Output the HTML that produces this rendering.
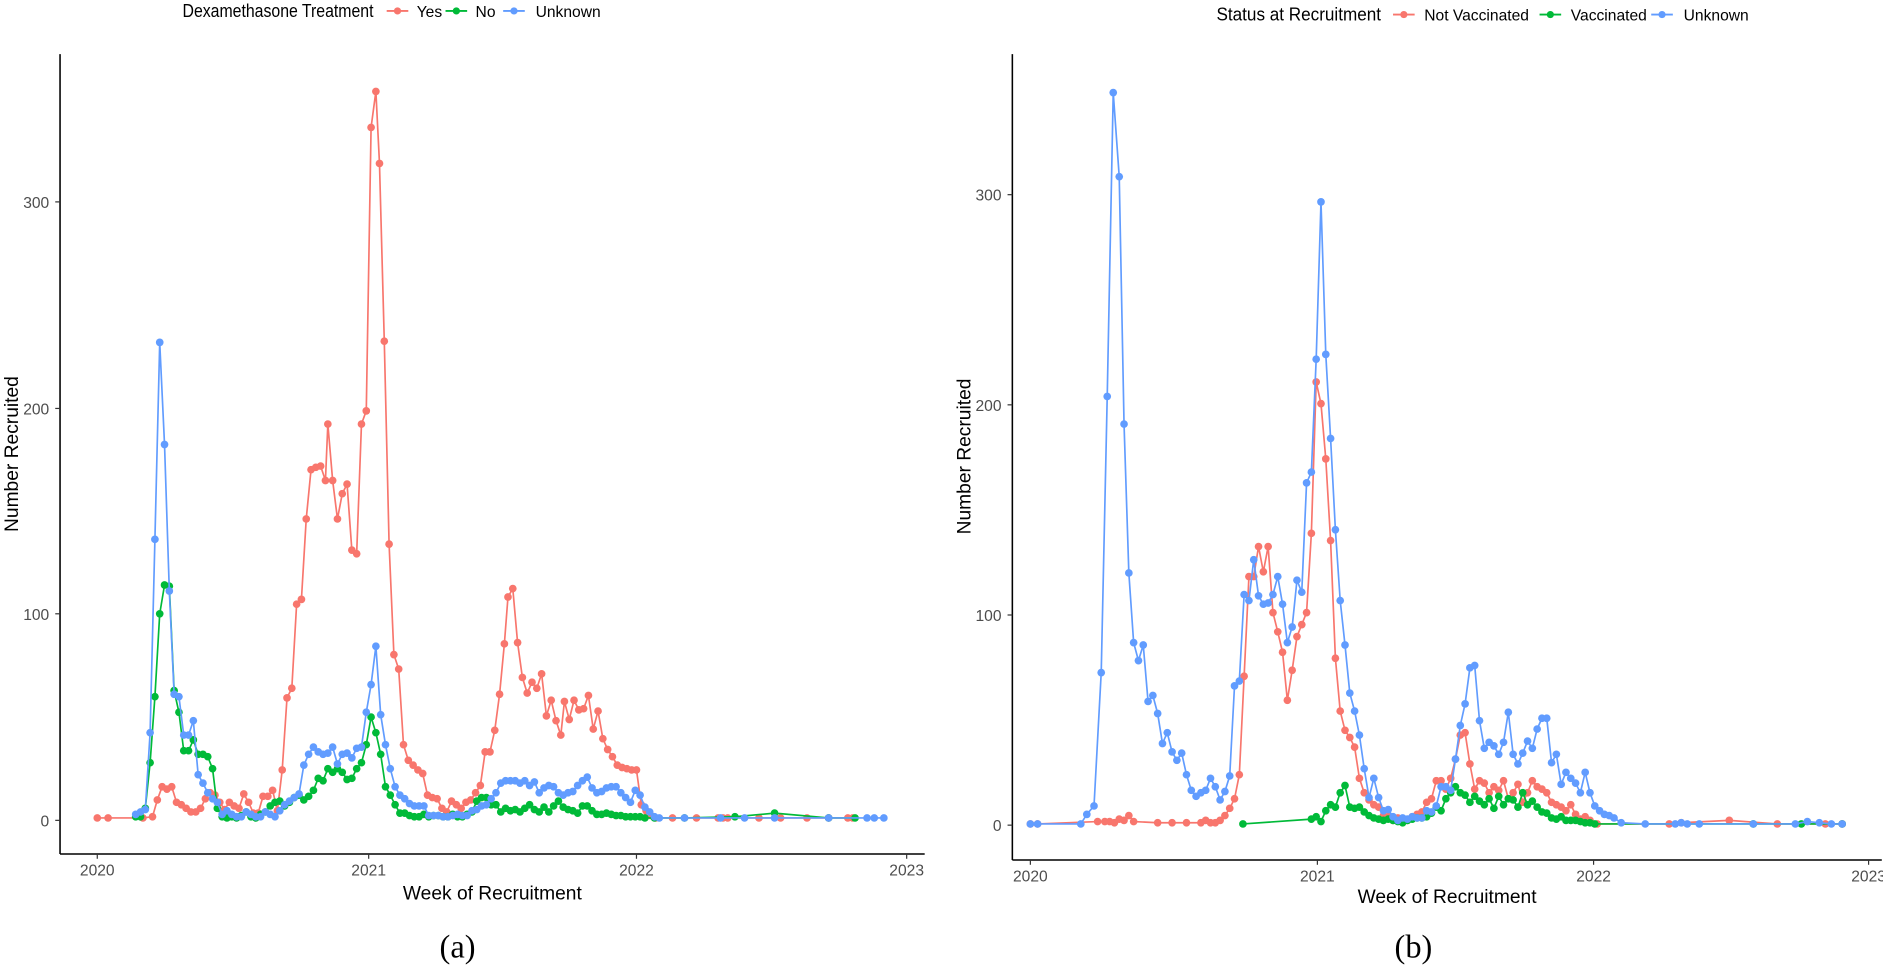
<!DOCTYPE html>
<html><head><meta charset="utf-8"><style>
body{margin:0;background:#fff;}
svg text{font-family:"Liberation Sans",sans-serif;}
</style></head><body>
<svg id="s" width="1883" height="967" viewBox="0 0 1568 805" xmlns="http://www.w3.org/2000/svg">
<rect width="1568" height="805" fill="#fff"/>
<!-- left axes -->
<line x1="50" y1="45" x2="50" y2="711" stroke="#000" stroke-width="1.3"/>
<line x1="50" y1="711" x2="770" y2="711" stroke="#000" stroke-width="1.3"/>
<g font-size="13" fill="#4d4d4d" text-anchor="end">
<text x="41" y="688">0</text><text x="41" y="516">100</text><text x="41" y="345">200</text><text x="41" y="173">300</text>
</g>
<g stroke="#333"><line x1="46" y1="683" x2="50" y2="683"/><line x1="46" y1="511" x2="50" y2="511"/><line x1="46" y1="340" x2="50" y2="340"/><line x1="46" y1="168" x2="50" y2="168"/>
<line x1="81" y1="711" x2="81" y2="715"/><line x1="307" y1="711" x2="307" y2="715"/><line x1="530" y1="711" x2="530" y2="715"/><line x1="755" y1="711" x2="755" y2="715"/></g>
<g font-size="13" fill="#4d4d4d" text-anchor="middle">
<text x="81" y="729">2020</text><text x="307" y="729">2021</text><text x="530" y="729">2022</text><text x="755" y="729">2023</text></g>
<text x="410" y="749" font-size="16" text-anchor="middle">Week of Recruitment</text>
<text transform="translate(15,378) rotate(-90)" font-size="16" text-anchor="middle">Number Recruited</text>
<text x="152" y="14" font-size="15" textLength="159" lengthAdjust="spacingAndGlyphs">Dexamethasone Treatment</text>
<g font-size="13"><line x1="322" y1="9" x2="340" y2="9" stroke="#F8766D" stroke-width="1.5"/><circle cx="331" cy="9" r="3" fill="#F8766D"/><text x="347" y="14">Yes</text>
<line x1="371" y1="9" x2="389" y2="9" stroke="#00BA38" stroke-width="1.5"/><circle cx="380" cy="9" r="3" fill="#00BA38"/><text x="396" y="14">No</text>
<line x1="419" y1="9" x2="437" y2="9" stroke="#619CFF" stroke-width="1.5"/><circle cx="428" cy="9" r="3" fill="#619CFF"/><text x="446" y="14">Unknown</text></g>
<!-- right axes -->
<line x1="843" y1="45" x2="843" y2="716" stroke="#000" stroke-width="1.3"/>
<line x1="843" y1="716" x2="1567" y2="716" stroke="#000" stroke-width="1.3"/>
<g font-size="13" fill="#4d4d4d" text-anchor="end">
<text x="834" y="692">0</text><text x="834" y="517">100</text><text x="834" y="342">200</text><text x="834" y="167">300</text></g>
<g stroke="#333"><line x1="839" y1="687" x2="843" y2="687"/><line x1="839" y1="512" x2="843" y2="512"/><line x1="839" y1="337" x2="843" y2="337"/><line x1="839" y1="162" x2="843" y2="162"/>
<line x1="858" y1="716" x2="858" y2="720"/><line x1="1097" y1="716" x2="1097" y2="720"/><line x1="1327" y1="716" x2="1327" y2="720"/><line x1="1556" y1="716" x2="1556" y2="720"/></g>
<g font-size="13" fill="#4d4d4d" text-anchor="middle">
<text x="858" y="734">2020</text><text x="1097" y="734">2021</text><text x="1327" y="734">2022</text><text x="1556" y="734">2023</text></g>
<text x="1205" y="752" font-size="16" text-anchor="middle">Week of Recruitment</text>
<text transform="translate(808,380) rotate(-90)" font-size="16" text-anchor="middle">Number Recruited</text>
<text x="1013" y="17" font-size="15" textLength="137" lengthAdjust="spacingAndGlyphs">Status at Recruitment</text>
<g font-size="13"><line x1="1160" y1="12" x2="1178" y2="12" stroke="#F8766D" stroke-width="1.5"/><circle cx="1169" cy="12" r="3" fill="#F8766D"/><text x="1186" y="17">Not Vaccinated</text>
<line x1="1282" y1="12" x2="1300" y2="12" stroke="#00BA38" stroke-width="1.5"/><circle cx="1291" cy="12" r="3" fill="#00BA38"/><text x="1308" y="17">Vaccinated</text>
<line x1="1375" y1="12" x2="1393" y2="12" stroke="#619CFF" stroke-width="1.5"/><circle cx="1384" cy="12" r="3" fill="#619CFF"/><text x="1402" y="17">Unknown</text></g>
<text x="381" y="797" font-size="27" text-anchor="middle" style="font-family:'Liberation Serif',serif">(a)</text>
<text x="1177" y="797" font-size="27" text-anchor="middle" style="font-family:'Liberation Serif',serif">(b)</text>
<g id="g"></g>
</svg>
<script>
function P(a){var r=[];for(var i=0;i<a.length;i+=2)r.push([a[i],a[i+1]]);return r;}
var LR=[81,681,90,681,119,681,127,680,131,666,135,655,139,657,143,655,147,668,151,670,155,673,159,676,163,676,167,673,171,665,175,660,179,662,183,668,187,674,191,668,195,671,199,673,203,661,207,668,211,677,215,677,219,663,223,663,227,658,231,675,235,641,239,581,243,573,247,503,251,499,255,432,259,391,263,389,267,388,271,400,273,353,277,400,281,432,285,411,289,403,293,458,297,461,301,353,305,342,309,106,313,76,316,136,320,284,324,453,328,545,332,557,336,620,340,633,344,637,348,641,352,644,356,662,360,664,364,665,368,673,372,676,376,667,380,670,384,673,388,668,392,666,396,660,400,654,404,626,408,626,412,608,416,578,420,536,423,497,427,490,431,535,435,564,439,577,443,568,447,573,451,561,455,596,459,583,463,600,467,612,470,584,474,599,478,583,482,591,486,590,490,579,494,607,498,592,502,615,506,624,510,630,514,637,518,639,522,640,526,641,530,641,534,670,538,675,542,679,546,681,560,681,580,681,598,681,602,681,606,681,632,681,650,681,672,681,690,681,706,681,710,681];
var LB=[113,678,117,676,121,674,125,610,129,449,133,285,137,370,141,492,145,578,149,580,153,612,157,612,161,600,165,645,169,652,173,660,177,665,181,668,185,678,189,675,193,678,197,680,201,680,205,676,209,678,213,680,217,680,221,676,225,678,229,680,233,675,237,670,241,667,245,664,249,661,253,637,257,628,261,622,265,626,269,628,273,627,277,622,281,636,285,628,289,627,293,631,297,623,301,622,305,593,309,570,313,538,317,595,321,620,325,640,329,655,333,662,337,665,341,669,345,671,349,671,353,671,357,679,361,679,365,679,369,680,373,680,377,679,381,678,385,679,389,679,393,675,397,674,401,671,405,670,409,665,413,660,417,652,421,650,425,650,429,650,433,652,437,650,441,654,445,651,449,660,453,656,457,654,461,655,465,660,469,662,473,660,477,659,481,654,485,650,489,647,493,656,497,660,501,659,505,656,509,655,513,655,517,660,521,664,525,668,529,658,533,662,537,672,541,676,545,680,549,681,570,681,600,681,620,681,645,681,690,681,722,681,728,681,736,681];
var LG=[113,680,117,680,121,673,125,635,129,580,133,511,137,487,141,488,145,575,149,593,153,625,157,625,161,616,165,628,169,628,173,630,177,640,181,673,185,680,189,681,193,680,197,681,201,679,205,676,209,680,213,681,217,678,221,676,225,671,229,668,233,667,237,671,241,668,245,664,249,662,253,666,257,663,261,658,265,648,269,650,273,640,277,643,281,640,285,643,289,649,293,648,297,640,301,635,305,620,309,597,313,610,317,628,321,655,325,662,329,670,333,677,337,677,341,679,345,680,349,680,353,678,357,680,361,679,365,679,369,680,373,680,377,678,381,680,385,680,389,678,393,676,397,667,401,664,405,664,409,670,413,670,417,676,421,673,425,675,429,674,433,676,437,673,441,670,445,674,449,676,453,672,457,676,461,671,465,667,469,672,473,674,477,675,481,677,485,671,489,671,493,675,497,678,501,678,505,677,509,678,513,679,517,679,521,680,525,680,529,680,533,680,537,681,545,681,570,681,612,680,645,677,690,681,712,681];
var RB=[858,686,864,686,900,686,905,678,911,671,917,560,922,330,927,77,932,147,936,353,940,477,944,535,948,550,952,537,956,584,960,579,964,594,968,619,972,610,976,626,980,633,984,627,988,645,992,658,996,663,1000,660,1004,658,1008,648,1012,655,1016,666,1020,659,1024,646,1028,571,1032,567,1036,495,1040,500,1044,466,1048,496,1052,503,1056,502,1060,495,1064,480,1068,503,1072,535,1076,522,1080,483,1084,493,1088,402,1092,393,1096,299,1100,168,1104,295,1108,365,1112,441,1116,500,1120,537,1124,577,1128,592,1132,612,1136,640,1140,664,1144,648,1148,664,1152,675,1156,674,1160,680,1164,683,1168,681,1172,682,1176,680,1180,681,1184,681,1188,675,1192,676,1196,671,1200,655,1204,655,1208,658,1212,632,1216,604,1220,586,1224,556,1228,554,1232,600,1236,623,1240,618,1244,621,1248,628,1252,618,1256,593,1260,628,1264,636,1268,627,1272,617,1276,623,1280,607,1284,598,1288,598,1292,635,1296,628,1300,653,1304,643,1308,648,1312,652,1316,660,1320,643,1324,660,1328,671,1332,675,1336,678,1340,679,1344,681,1350,685,1370,686,1395,686,1400,685,1405,686,1415,686,1460,686,1495,686,1505,684,1515,685,1525,686,1534,686];
var RR=[858,686,864,686,914,684,920,684,924,684,928,685,932,682,936,683,940,679,944,684,964,685,976,685,988,685,1000,685,1004,683,1008,685,1012,685,1016,683,1020,679,1024,673,1028,665,1032,645,1036,563,1040,480,1044,480,1048,455,1052,476,1056,455,1060,510,1064,526,1068,543,1072,583,1076,558,1080,530,1084,520,1088,510,1092,444,1096,318,1100,336,1104,382,1108,450,1112,548,1116,592,1120,608,1124,614,1128,622,1132,648,1136,660,1140,666,1144,670,1148,672,1152,679,1156,680,1160,683,1164,681,1168,682,1172,683,1176,680,1180,678,1184,676,1188,668,1192,665,1196,650,1200,650,1204,657,1208,648,1212,632,1216,612,1220,610,1224,636,1228,657,1232,650,1236,652,1240,660,1244,655,1248,658,1252,650,1256,665,1260,660,1264,653,1268,668,1272,660,1276,650,1280,655,1284,657,1288,660,1292,668,1296,670,1300,672,1304,675,1308,670,1312,678,1316,682,1320,680,1324,683,1330,686,1390,686,1400,685,1440,683,1480,686,1520,686,1534,686];
var RG=[1035,686,1092,682,1096,680,1100,684,1104,675,1108,670,1112,672,1116,660,1120,654,1124,672,1128,673,1132,672,1136,676,1140,679,1144,681,1148,682,1152,683,1156,682,1160,683,1164,684,1168,685,1172,683,1176,682,1180,681,1184,681,1188,680,1192,677,1196,672,1200,675,1204,665,1208,660,1212,655,1216,660,1220,662,1224,668,1228,663,1232,667,1236,670,1240,665,1244,673,1248,663,1252,670,1256,665,1260,666,1264,672,1268,660,1272,670,1276,667,1280,672,1284,676,1288,677,1292,681,1296,682,1300,680,1304,683,1308,683,1312,683,1316,684,1320,685,1324,685,1328,686,1460,686,1500,686,1534,686];
var g=document.getElementById('g'),h='';
function draw(a,c){var p=P(a);h+='<polyline fill="none" stroke="'+c+'" stroke-width="1.4" points="'+p.map(function(q){return q.join(',')}).join(' ')+'"/>';p.forEach(function(q){h+='<circle cx="'+q[0]+'" cy="'+q[1]+'" r="3.2" fill="'+c+'"/>';});}
draw(LR,'#F8766D');draw(LG,'#00BA38');draw(LB,'#619CFF');
draw(RR,'#F8766D');draw(RG,'#00BA38');draw(RB,'#619CFF');
g.innerHTML=h;
</script>
</body></html>
